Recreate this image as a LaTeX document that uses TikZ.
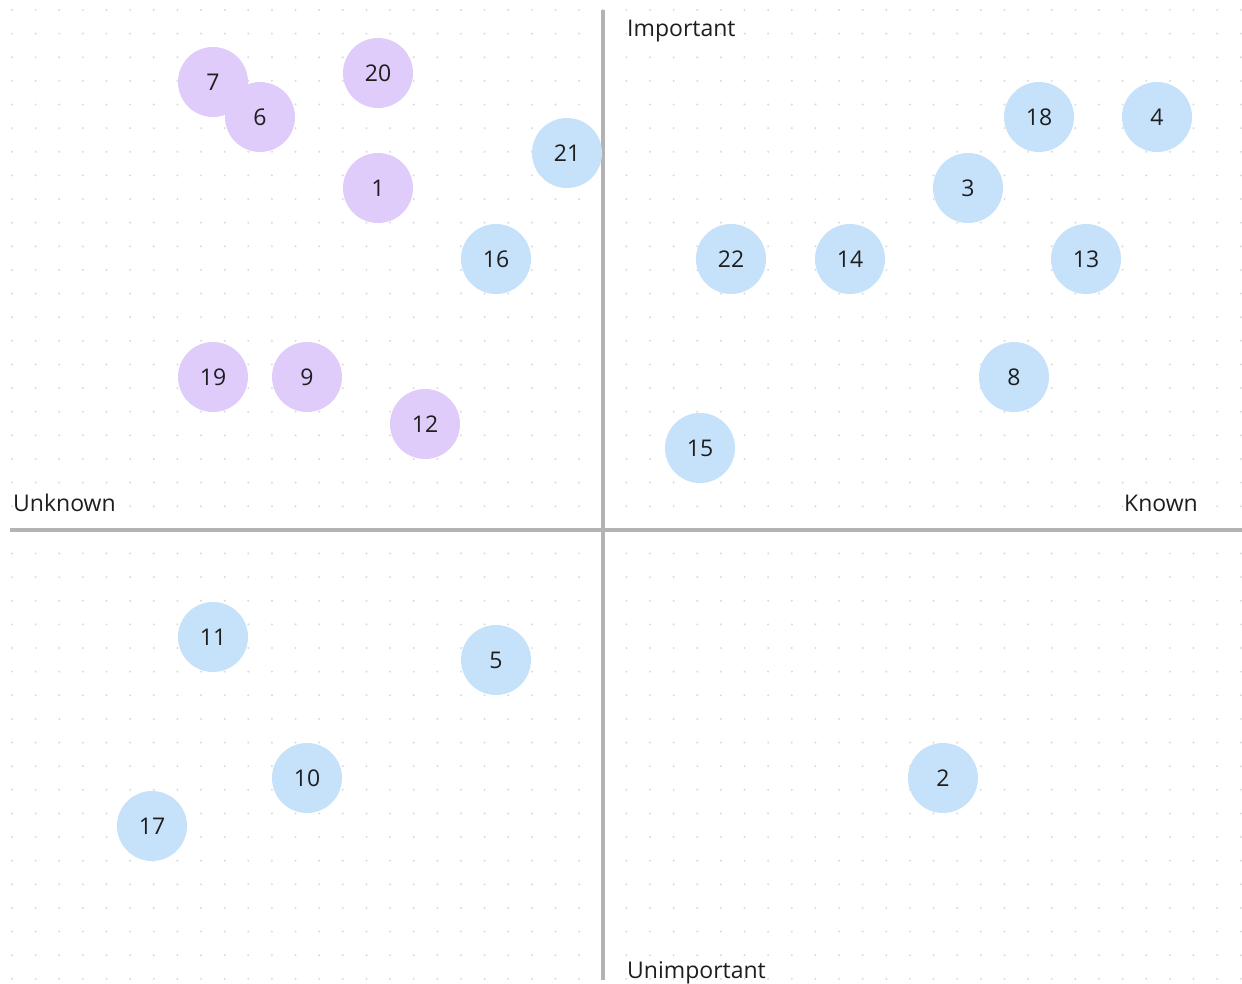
\documentclass[tikz,border=0pt]{standalone}
\usepackage{fontspec}
\setmainfont{Open Sans}
\definecolor{purp}{HTML}{E0CCFA}
\definecolor{blu}{HTML}{C6E2FB}
\definecolor{axis}{HTML}{B3B3B3}
\definecolor{dotc}{HTML}{DADADA}
\definecolor{ink}{HTML}{1E1E1E}
\begin{document}
\begin{tikzpicture}[x=1pt,y=-1pt,
  bubble/.style={circle,minimum size=70pt,inner sep=0pt,text=ink,font=\fontsize{23}{27}\selectfont},
  pb/.style={bubble,fill=purp},
  bb/.style={bubble,fill=blu},
  lab/.style={text=ink,font=\fontsize{23}{28}\selectfont,inner sep=0pt},
  axisline/.style={draw=axis,line width=3.5pt}]
\useasboundingbox[fill=white] (0,0) rectangle (1242,984);
\foreach \i in {0,...,52}{\foreach \j in {0,...,41}{
  \fill[dotc] ({12+23.63*\i},{10+23.63*\j}) circle (1.1pt);}}
\coordinate (vt) at (603,10);
\coordinate (vb) at (603,980);
\coordinate (hl) at (10,530);
\coordinate (hr) at (1242,530);
\draw[axisline] (vt) -- (vb);
\draw[axisline] (hl) -- (hr);
\node[lab,anchor=west] (imp) at (627,31) {Important};
\node[lab,anchor=west] (unimp) at (627,973) {Unimportant};
\node[lab,anchor=west] (unk) at (13,503) {Unknown};
\node[lab,anchor=east] (kn) at (1198,503) {Known};
\node[pb] (n7) at (213,82) {7};
\node[pb] (n6) at (260,117) {6};
\node[pb] (n20) at (378,73) {20};
\node[pb] (n1) at (378,188) {1};
\node[pb] (n19) at (213,377) {19};
\node[pb] (n9) at (307,377) {9};
\node[pb] (n12) at (425,424) {12};
\node[bb] (n21) at (567,153) {21};
\node[bb] (n16) at (496,259) {16};
\node[bb] (n22) at (731,259) {22};
\node[bb] (n14) at (850,259) {14};
\node[bb] (n3) at (968,188) {3};
\node[bb] (n18) at (1039,117) {18};
\node[bb] (n4) at (1157,117) {4};
\node[bb] (n13) at (1086,259) {13};
\node[bb] (n8) at (1014,377) {8};
\node[bb] (n15) at (700,448) {15};
\node[bb] (n11) at (213,637) {11};
\node[bb] (n5) at (496,660) {5};
\node[bb] (n10) at (307,778) {10};
\node[bb] (n17) at (152,826) {17};
\node[bb] (n2) at (943,778) {2};
\end{tikzpicture}
\end{document}
